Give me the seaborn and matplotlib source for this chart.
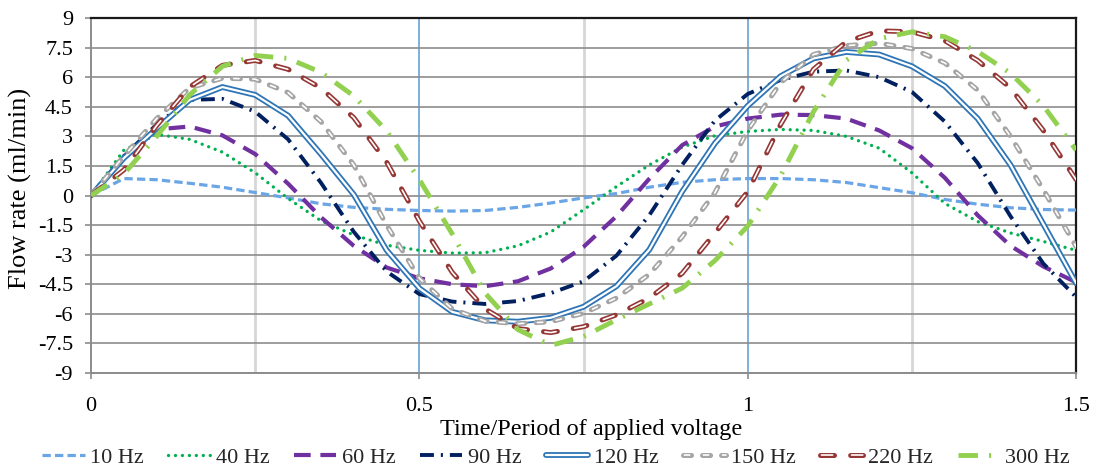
import matplotlib
matplotlib.use("Agg")
import matplotlib.pyplot as plt
import seaborn as sns
import pandas as pd

# time normalised by the period of the applied voltage
time_period = [0.00, 0.05, 0.10, 0.15, 0.20, 0.25, 0.30, 0.35, 0.40, 0.45,
               0.50, 0.55, 0.60, 0.65, 0.70, 0.75, 0.80, 0.85, 0.90, 0.95,
               1.00, 1.05, 1.10, 1.15, 1.20, 1.25, 1.30, 1.35, 1.40, 1.45, 1.50]

# flow rate (ml/min)
flow_10hz = [0, 0.86, 0.8, 0.62, 0.42, 0.15, -0.12, -0.42, -0.6, -0.7,
             -0.76, -0.79, -0.76, -0.6, -0.38, -0.12, 0.1, 0.42, 0.67, 0.8,
             0.86, 0.86, 0.8, 0.66, 0.4, 0.14, -0.2, -0.44, -0.62, -0.71, -0.74]
flow_40hz = [0, 2.3, 3.1, 2.85, 2.2, 1.15, -0.15, -1.28, -2.0, -2.52,
             -2.78, -2.92, -2.9, -2.55, -1.85, -0.72, 0.45, 1.55, 2.45, 3.03,
             3.25, 3.35, 3.3, 3.0, 2.4, 1.15, -0.4, -1.32, -1.9, -2.33, -2.78]
flow_60hz = [0, 2.0, 3.35, 3.5, 3.05, 2.1, 0.6, -1.1, -2.55, -3.65,
             -4.2, -4.5, -4.6, -4.35, -3.7, -2.6, -1.05, 0.85, 2.55, 3.5,
             3.9, 4.1, 4.08, 3.9, 3.3, 2.4, 0.9, -1.0, -2.55, -3.6, -4.4]
flow_90hz = [0, 2.0, 3.6, 4.85, 4.9, 4.25, 2.85, 0.65, -1.84, -3.85,
             -5.0, -5.38, -5.5, -5.35, -4.95, -4.35, -3.05, -1.0, 1.55, 3.8,
             5.15, 5.86, 6.28, 6.34, 6.0, 5.25, 3.75, 1.65, -1.05, -3.45, -5.15]
flow_120hz = [0, 1.9, 3.4, 4.85, 5.5, 5.1, 4.05, 2.1, 0.05, -2.77,
              -4.71, -5.9, -6.33, -6.4, -6.2, -5.64, -4.6, -2.75, 0.2, 2.65,
              4.55, 6.05, 6.95, 7.28, 7.15, 6.55, 5.55, 3.9, 1.55, -1.45, -4.45]
flow_150hz = [0, 2.0, 3.9, 5.45, 5.95, 5.9, 5.22, 3.75, 1.55, -1.5,
              -4.2, -5.75, -6.37, -6.5, -6.4, -5.97, -5.2, -4.0, -2.1, 0.15,
              3.3, 5.72, 7.15, 7.6, 7.72, 7.45, 6.72, 5.35, 3.0, 0.3, -2.6]
flow_220hz = [0, 1.3, 3.55, 5.5, 6.6, 6.85, 6.4, 5.45, 3.95, 1.7,
              -1.3, -3.9, -5.75, -6.75, -6.95, -6.65, -6.05, -5.2, -3.95, -1.9,
              0.2, 3.6, 6.4, 7.8, 8.35, 8.3, 7.85, 6.85, 5.45, 3.3, 0.8]
flow_300hz = [0, 1.1, 3.0, 5.1, 6.55, 7.1, 6.95, 6.25, 5.05, 3.28,
              0.8, -1.95, -4.95, -6.8, -7.6, -7.15, -6.3, -5.5, -4.7, -3.3,
              -1.55, 1.0, 4.25, 6.86, 7.95, 8.3, 8.05, 7.3, 6.2, 4.55, 2.3]

series_labels = ["10 Hz", "40 Hz", "60 Hz", "90 Hz", "120 Hz", "150 Hz", "220 Hz", "300 Hz"]
series_values = [flow_10hz, flow_40hz, flow_60hz, flow_90hz,
                 flow_120hz, flow_150hz, flow_220hz, flow_300hz]

x_ticks = [0, 0.5, 1, 1.5]
x_tick_labels = ["0", "0.5", "1", "1.5"]
y_ticks = [9, 7.5, 6, 4.5, 3, 1.5, 0, -1.5, -3, -4.5, -6, -7.5, -9]
y_tick_labels = ["9", "7.5", "6", "4.5", "3", "1.5", "0", "-1.5", "-3", "-4.5", "-6", "-7.5", "-9"]
grey_guides = [0.25, 0.75, 1.25]
blue_guides = [0.5, 1.0]

sns.set_theme(style="white")
plt.rcParams["font.family"] = ["Liberation Serif", "DejaVu Serif"]
plt.rcParams["lines.scale_dashes"] = False  # dash lengths in points

# (colour, width, dash pattern, capstyle, inner white line or None)
styles = [
    ("#6aa5e6", 2.3, (0, (6.0, 3.0)), "butt", None),
    ("#00b050", 2.4, (0, (0.01, 5.0)), "round", None),
    ("#7030a0", 3.0, (0, (12, 7)), "butt", None),
    ("#002060", 2.8, (0, (10, 5, 1.5, 5)), "butt", None),
    ("#2e75b6", 4.2, "-", "butt", (1.6, "-")),
    ("#a5a5a5", 3.6, (0, (5.8, 7.9)), "round", (1.2, (12.7, (3.8, 9.9)))),
    ("#953735", 3.6, (0, (10.1, 11.6)), "round", (1.2, (20.7, (8.1, 13.6)))),
    ("#92d050", 3.5, (0, (14, 8, 1.5, 8)), "butt", None),
]

fig = plt.figure(figsize=(10.97, 4.68), dpi=100)
ax = fig.add_axes([0.083, 0.203, 0.898, 0.7585])

for gx in grey_guides:
    ax.axvline(gx, color="#d6d6d6", lw=2.0, zorder=0)
for gx in blue_guides:
    ax.axvline(gx, color="#5b9bd5", lw=1.1, zorder=0)

handles = []
for i, (label, values) in enumerate(zip(series_labels, series_values)):
    color, lw, ls, cap, inner = styles[i]
    df = pd.DataFrame({"t": time_period, "q": values})
    sns.lineplot(data=df, x="t", y="q", ax=ax, color=color, lw=lw, linestyle=ls,
                 dash_capstyle=cap, solid_capstyle="round", solid_joinstyle="round",
                 estimator=None, errorbar=None, sort=False, zorder=3 + i)
    outer = ax.lines[-1]
    if inner is None:
        handles.append(outer)
        continue
    in_lw, in_ls = inner
    sns.lineplot(data=df, x="t", y="q", ax=ax, color="white", lw=in_lw, linestyle=in_ls,
                 dash_capstyle=cap, solid_joinstyle="round", estimator=None,
                 errorbar=None, sort=False, zorder=3.5 + i)
    handles.append((outer, ax.lines[-1]))

ax.set_xlim(0, 1.5)
ax.set_ylim(-9, 9)
ax.set_xticks(x_ticks)
ax.set_xticklabels(x_tick_labels)
ax.set_yticks(y_ticks)
ax.set_yticklabels(y_tick_labels)
ax.grid(axis="y", color="#8c8c8c", lw=1.2, zorder=0)
ax.grid(axis="x", visible=False)
ax.set_axisbelow(True)

for side in ["top", "right"]:
    ax.spines[side].set_color("#1a1a1a")
    ax.spines[side].set_linewidth(1.6)
for side in ["left", "bottom"]:
    ax.spines[side].set_color("#8c8c8c")
    ax.spines[side].set_linewidth(1.4)

ax.tick_params(axis="both", which="major", bottom=True, left=True, direction="out",
               length=4, width=1.2, color="#8c8c8c", labelsize=16, labelcolor="black")
ax.tick_params(axis="x", pad=13)
ax.tick_params(axis="y", pad=9)

ax.set_xlabel("Time/Period of applied voltage", fontsize=17.5, color="black")
ax.xaxis.label.set_va("center")
ax.xaxis.set_label_coords(0.5076, -0.158)
ax.set_ylabel("Flow rate (ml/min)", fontsize=19, color="black")
ax.yaxis.label.set_va("center")
ax.yaxis.set_label_coords(-0.072, 0.521)

fig.legend(handles, series_labels, loc="center", bbox_to_anchor=(0.507, 0.022),
           ncol=8, frameon=False, fontsize=16, handlelength=1.9, handletextpad=0.25,
           columnspacing=1.1, borderaxespad=0, borderpad=0)

fig.savefig("out.png", dpi=100)
